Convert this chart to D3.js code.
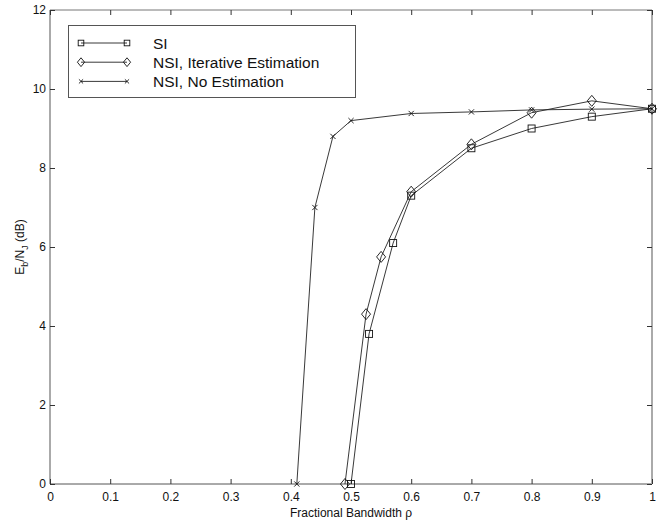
<!DOCTYPE html>
<html lang="en">
<head>
    <meta charset="UTF-8" />
    <title>Eb/NJ vs Fractional Bandwidth</title>
    <script src="https://d3js.org/d3.v7.min.js"></script>
    <style>
        body { margin: 0; background: #fff; }
        svg { font-family: "Liberation Sans", Arial, sans-serif; }
    </style>
</head>
<body>
    <script>
        // data
        var siX = [0.5, 0.53, 0.57, 0.6, 0.7, 0.8, 0.9, 1.0];
        var siY = [0, 3.8, 6.1, 7.3, 8.5, 9.0, 9.3, 9.5];
        var iterX = [0.49, 0.525, 0.55, 0.6, 0.7, 0.8, 0.9, 1.0];
        var iterY = [0, 4.3, 5.75, 7.4, 8.6, 9.4, 9.7, 9.5];
        var noEstX = [0.41, 0.44, 0.47, 0.5, 0.6, 0.7, 0.8, 0.9, 1.0];
        var noEstY = [0, 7.0, 8.8, 9.2, 9.38, 9.42, 9.47, 9.49, 9.5];
        var seriesNames = ["SI", "NSI, Iterative Estimation", "NSI, No Estimation"];
        var xTicks = [0, 0.1, 0.2, 0.3, 0.4, 0.5, 0.6, 0.7, 0.8, 0.9, 1];
        var yTicks = [0, 2, 4, 6, 8, 10, 12];

        var w = 672;
        var h = 523;
        // plot box edges (don't use "top" - it clashes with window.top)
        var pLeft = 50, pRight = 652, pTop = 10, pBottom = 484;

        var svg = d3.select("body")
            .append("svg")
            .attr("width", w)
            .attr("height", h);

        var xScale = d3.scaleLinear().domain([0, 1]).range([pLeft, pRight]);
        var yScale = d3.scaleLinear().domain([0, 12]).range([pBottom, pTop]);

        // frame
        svg.append("line").attr("x1", pLeft).attr("x2", pRight).attr("y1", pTop).attr("y2", pTop)
            .attr("stroke", "#777").attr("stroke-width", 1);
        svg.append("line").attr("x1", pLeft).attr("x2", pRight).attr("y1", pBottom).attr("y2", pBottom)
            .attr("stroke", "#555").attr("stroke-width", 1);
        svg.append("line").attr("x1", pLeft).attr("x2", pLeft).attr("y1", pTop).attr("y2", pBottom)
            .attr("stroke", "#aaa").attr("stroke-width", 2);
        svg.append("line").attr("x1", pRight).attr("x2", pRight).attr("y1", pTop).attr("y2", pBottom)
            .attr("stroke", "#aaa").attr("stroke-width", 2);

        // axes with inward ticks
        var xAxis = d3.axisBottom(xScale).tickValues(xTicks).tickSize(-5).tickPadding(8)
            .tickFormat(function(d) { return d === 0 || d === 1 ? d : d3.format(".1f")(d); });
        var gx = svg.append("g").attr("transform", "translate(0," + pBottom + ")").call(xAxis);
        var xTop = d3.axisTop(xScale).tickValues(xTicks).tickSize(-5).tickFormat("");
        var gxt = svg.append("g").attr("transform", "translate(0," + pTop + ")").call(xTop);
        var yAxis = d3.axisLeft(yScale).tickValues(yTicks).tickSize(-5).tickPadding(4);
        var gy = svg.append("g").attr("transform", "translate(" + pLeft + ",0)").call(yAxis);
        var yRight = d3.axisRight(yScale).tickValues(yTicks).tickSize(-5).tickFormat("");
        var gyr = svg.append("g").attr("transform", "translate(" + pRight + ",0)").call(yRight);

        [gx, gxt, gy, gyr].forEach(function(g) {
            g.select(".domain").remove();
            g.selectAll(".tick line").attr("stroke", "#333");
            g.selectAll(".tick text").attr("fill", "#111").style("font-size", "12px")
                .style("font-family", "'Liberation Sans', Arial, sans-serif");
        });

        // axis titles
        svg.append("text")
            .attr("x", (pLeft + pRight) / 2)
            .attr("y", 517)
            .attr("text-anchor", "middle")
            .style("font-size", "12px")
            .attr("fill", "#111")
            .text("Fractional Bandwidth \u03c1");

        var yl = svg.append("text")
            .attr("transform", "translate(24," + (pTop + pBottom) / 2 + ") rotate(-90)")
            .attr("text-anchor", "middle")
            .style("font-size", "12px")
            .attr("fill", "#111");
        yl.append("tspan").text("E");
        yl.append("tspan").attr("dy", 4).style("font-size", "9px").text("b");
        yl.append("tspan").attr("dy", -4).text("/N");
        yl.append("tspan").attr("dy", 4).style("font-size", "9px").text("J");
        yl.append("tspan").attr("dy", -4).text(" (dB)");

        // markers
        function drawMarker(g, kind, x, y, s) {
            s = s || 1;
            if (kind === "square") {
                g.append("rect").attr("x", x - 3.5 * s).attr("y", y - 3.5 * s)
                    .attr("width", 7 * s).attr("height", 7 * s)
                    .attr("fill", "none").attr("stroke", "#111").attr("stroke-width", 0.9);
            } else if (kind === "diamond") {
                g.append("path")
                    .attr("d", "M" + x + "," + (y - 5.5 * s) + "L" + (x + 4.5 * s) + "," + y +
                        "L" + x + "," + (y + 5.5 * s) + "L" + (x - 4.5 * s) + "," + y + "Z")
                    .attr("fill", "none").attr("stroke", "#111").attr("stroke-width", 0.9);
            } else {
                var k = 2.6 * s;
                g.append("path")
                    .attr("d", "M" + (x - k) + "," + (y - k) + "L" + (x + k) + "," + (y + k) +
                        "M" + (x - k) + "," + (y + k) + "L" + (x + k) + "," + (y - k))
                    .attr("fill", "none").attr("stroke", "#111").attr("stroke-width", 0.9);
            }
        }

        var series = [
            { xs: siX, ys: siY, kind: "square" },
            { xs: iterX, ys: iterY, kind: "diamond" },
            { xs: noEstX, ys: noEstY, kind: "x" }
        ];

        var line = d3.line()
            .x(function(d) { return xScale(d[0]); })
            .y(function(d) { return yScale(d[1]); });

        series.forEach(function(s) {
            var pts = s.xs.map(function(x, i) { return [x, s.ys[i]]; });
            var g = svg.append("g");
            g.append("path")
                .datum(pts)
                .attr("d", line)
                .attr("fill", "none")
                .attr("stroke", "#222")
                .attr("stroke-width", 0.9);
            pts.forEach(function(p) {
                drawMarker(g, s.kind, xScale(p[0]), yScale(p[1]));
            });
        });

        // legend
        var lg = svg.append("g");
        lg.append("rect")
            .attr("x", 68.5).attr("y", 25.5)
            .attr("width", 287).attr("height", 72)
            .attr("fill", "#fff").attr("stroke", "#555").attr("stroke-width", 1);
        seriesNames.forEach(function(name, i) {
            var y = 43 + i * 19.2;
            lg.append("line").attr("x1", 81).attr("x2", 127).attr("y1", y).attr("y2", y)
                .attr("stroke", "#222").attr("stroke-width", 0.9);
            drawMarker(lg, series[i].kind, 81, y, 0.8);
            drawMarker(lg, series[i].kind, 127, y, 0.8);
            lg.append("text")
                .attr("x", 153)
                .attr("y", y + 5.5)
                .style("font-size", "15.5px")
                .attr("fill", "#111")
                .text(name);
        });
    </script>
</body>
</html>
